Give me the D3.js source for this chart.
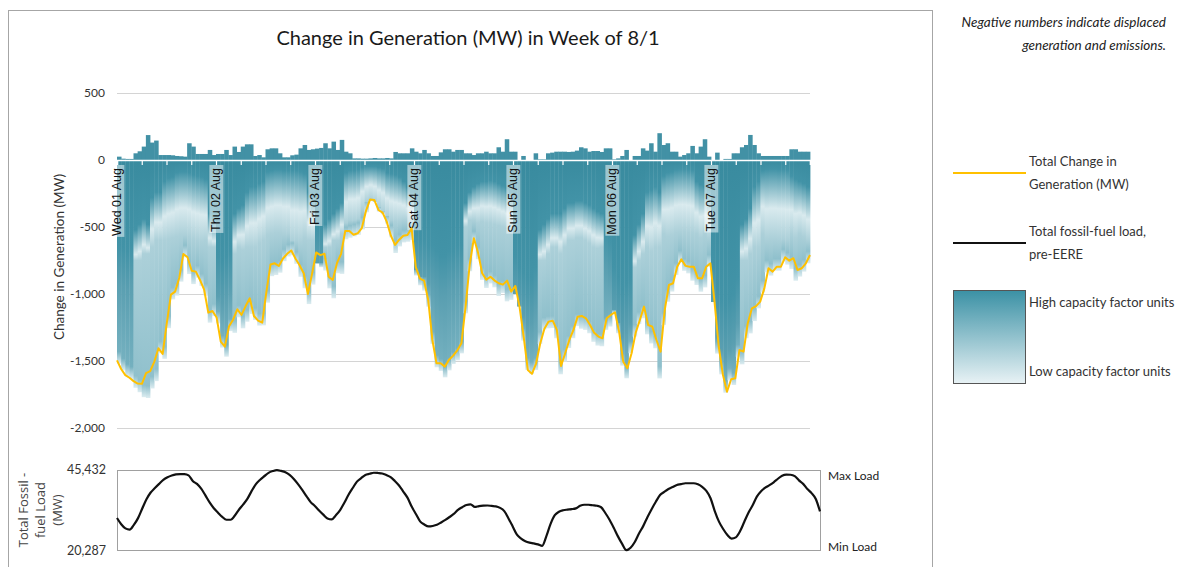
<!DOCTYPE html>
<html>
<head>
<meta charset="utf-8">
<script src="https://cdn.jsdelivr.net/npm/d3@7"></script>
<style>
body { margin: 0; background: #fff; }
svg { font-family: Lato, "Open Sans", sans-serif; }
</style>
</head>
<body>
<svg id="chart" width="1193" height="567"></svg>
<script>
// hourly data, week of 8/1
const hours = d3.range(168);
const dayLabels = ['Wed 01 Aug', 'Thu 02 Aug', 'Fri 03 Aug', 'Sat 04 Aug', 'Sun 05 Aug', 'Mon 06 Aug', 'Tue 07 Aug'];
const yTicks = [500, 0, -500, -1000, -1500, -2000];

// total change in generation (MW) - yellow line
const totalChange = [
  -1495,-1560,-1605,-1625,-1650,-1668,-1670,-1590,-1575,-1505,-1405,-1447,-1218,-1005,-982,-880,-701,-726,-826,-833,-895,-968,-1139,-1127,
  -1175,-1355,-1393,-1240,-1190,-1114,-1156,-1090,-1032,-1164,-1199,-1214,-985,-780,-771,-791,-735,-700,-675,-735,-785,-845,-1000,-850,
  -690,-710,-700,-871,-895,-770,-700,-530,-530,-558,-547,-508,-380,-294,-298,-373,-393,-460,-565,-634,-595,-565,-560,-510,
  -800,-885,-900,-1045,-1343,-1517,-1517,-1542,-1490,-1460,-1420,-1368,-1094,-780,-584,-690,-845,-893,-871,-900,-920,-930,-900,-982,
  -940,-1094,-1318,-1567,-1596,-1517,-1368,-1260,-1206,-1199,-1268,-1537,-1442,-1343,-1268,-1169,-1164,-1181,-1231,-1290,-1318,-1330,-1181,-1156,
  -1136,-1281,-1505,-1554,-1442,-1288,-1194,-1094,-1231,-1244,-1343,-1430,-1119,-933,-920,-796,-741,-790,-796,-796,-883,-883,-796,-771,
  -1060,-1390,-1600,-1729,-1636,-1629,-1418,-1430,-1218,-1107,-1090,-1057,-958,-808,-833,-796,-796,-726,-751,-733,-821,-808,-771,-709
];

// units with increased generation (MW)
const increase = [
  25,10,8,8,50,65,100,186,130,145,37,37,37,35,30,28,25,125,100,45,45,45,75,37,
  45,45,75,37,100,60,100,117,117,30,37,20,80,87,87,50,20,20,35,40,87,112,75,80,
  85,90,125,87,137,75,150,62,50,12,12,10,10,12,15,12,12,15,12,60,50,50,50,87,
  62,50,75,50,30,30,57,80,80,62,75,75,50,50,37,50,50,62,50,50,95,62,155,62,
  62,0,30,0,0,50,5,5,50,55,62,62,62,60,62,70,95,87,62,67,67,60,87,87,
  5,12,30,75,0,30,30,87,70,125,62,200,112,125,62,62,25,37,50,105,50,100,155,25,
  0,55,0,8,8,50,50,95,112,187,112,50,30,30,30,30,30,30,30,80,80,62,62,62
];

// displaced MW on high capacity factor units (top of the negative stack)
const highCF = [
  800,820,850,800,650,600,550,600,350,300,300,200,170,160,120,110,110,120,140,150,160,180,500,550,
  900,950,900,850,500,450,420,300,250,250,220,200,110,100,90,90,100,100,100,100,110,130,300,350,
  650,650,600,550,500,450,400,120,100,100,90,70,60,60,60,70,80,120,130,140,160,200,250,300,
  700,750,750,800,800,850,900,900,850,850,800,800,400,300,250,220,200,200,190,200,220,240,260,300,
  900,1000,1050,1100,1100,1000,650,600,550,500,500,500,450,400,400,380,380,400,420,450,480,500,700,750,
  1000,1100,1200,1150,1100,700,600,500,300,280,250,300,150,120,110,90,85,85,90,95,200,230,250,280,
  1000,1200,1300,1350,1300,1250,1100,600,550,450,250,200,100,90,85,85,90,90,95,150,180,200,220,250
];

// displaced MW on low capacity factor units (just under the high CF block)
const lowCF = [
  0,0,0,0,100,150,150,100,300,300,300,400,420,420,450,450,450,450,450,450,450,420,150,100,
  0,0,0,0,200,200,250,350,400,400,400,400,450,450,450,450,450,450,500,500,500,450,300,250,
  0,0,50,100,100,150,150,350,350,350,350,300,250,230,250,280,300,300,320,320,300,250,200,150,
  0,0,0,0,0,0,0,0,0,0,0,0,100,150,200,250,260,270,280,280,270,260,250,200,
  0,0,0,0,0,0,100,150,150,150,150,200,200,200,200,200,200,200,200,200,180,150,0,0,
  0,0,0,0,0,100,150,200,350,400,400,350,400,450,450,450,450,450,450,450,350,350,300,300,
  0,0,0,0,0,0,0,150,200,250,400,450,450,500,500,500,500,500,500,400,400,350,350,350
];

// total fossil-fuel load, pre-EERE (MW)
const fossilLoad = [
  30440,28500,27200,26810,28300,30400,33400,36300,38400,39800,41100,42330,43150,43700,44050,44160,44120,43750,42000,41080,39600,37500,35300,33500,
  32100,30800,29900,29900,31200,33100,34700,36500,38900,41000,42400,43500,44550,45100,45400,45150,44750,43900,42650,41000,39200,37300,35400,34200,
  32800,31500,30300,30000,31300,32900,35200,37700,39800,41800,42900,43900,44250,44580,44500,44350,43850,43200,42000,40600,38700,36800,34000,31700,
  29390,28400,27800,27950,28300,29050,29850,30750,31700,32950,33800,34500,34680,33900,34170,34300,34340,34200,34080,33600,32600,30300,27800,25250,
  24000,23200,22750,22500,22200,21750,24800,28600,31300,32400,32850,33050,33200,33450,34230,34570,34570,34420,34260,33800,32000,29900,27400,24700,
  22350,20400,21150,22950,25600,27900,30700,33200,35500,37600,38600,39500,40100,40760,41000,41300,41300,41300,40950,40180,38900,36600,32600,29300,
  27000,25100,24000,24400,26300,29200,32100,34400,37100,38800,39900,40700,41600,42700,43650,44000,43950,43500,42200,41100,39500,38200,36400,32490
];
const loadMin = 20287, loadMax = 45432;

const rows = hours.map(h => ({
  hour: h,
  increase: increase[h],
  decrease: totalChange[h] - increase[h],
  total: totalChange[h],
  high: highCF[h],
  low: lowCF[h]
}));

const svg = d3.select('#chart');
const fmt = d3.formatLocale({decimal: '.', thousands: ',', grouping: [3], currency: ['$', ''], minus: '-'}).format(',');

const colTop = '#398b9f', colDark = '#4293a7', colPale = '#d9eaee', colLight = '#acd0d9',
      colMid = '#5a9fb1', colBase = '#74b0bf', colLow = '#8fc0cc', colEdge = '#dcecf0';
const gold = '#ffc000';

// outer frame
svg.append('rect')
  .attr('x', 8.5).attr('y', 10.5)
  .attr('width', 924).attr('height', 600)
  .attr('fill', 'none').attr('stroke', '#a6a6a6');

svg.append('text')
  .attr('x', 468).attr('y', 45)
  .attr('text-anchor', 'middle')
  .attr('font-size', 20).attr('fill', '#1a1a1a')
  .text('Change in Generation (MW) in Week of 8/1');

const x = d3.scaleBand().domain(hours).range([117, 810]).padding(0);
const xp = d3.scalePoint().domain(hours).range([117, 810]);
const xt = d3.scaleLinear().domain([0, 168]).range([117, 810]);
const y = d3.scaleLinear().domain([-2000, 500]).range([428, 93]);

// gridlines + y labels
const yAxis = svg.append('g')
  .attr('transform', 'translate(117,0)')
  .call(d3.axisLeft(y).tickValues(yTicks).tickSize(-693).tickPadding(12).tickFormat(fmt));
yAxis.select('.domain').remove();
yAxis.selectAll('line').attr('stroke', '#d4d4d4');
yAxis.selectAll('text').attr('font-size', 12).attr('fill', '#333').attr('font-family', 'Lato, sans-serif');

svg.append('text')
  .attr('transform', 'translate(64,257) rotate(-90)')
  .attr('text-anchor', 'middle')
  .attr('font-size', 13.5).attr('fill', '#333')
  .text('Change in Generation (MW)');

// stacked bars (diverging: increase above zero, decrease below)
const stack = d3.stack().keys(['increase', 'decrease']).offset(d3.stackOffsetDiverging)(rows);

// each displaced column gets its own vertical gradient: high CF block on top, low CF under it
const defs = svg.append('defs');
rows.forEach(d => {
  const N = -d.decrease;
  const h = Math.min(d.high, N);
  const stops = [[0, colTop], [h * 0.8 / N, colDark]];
  if (d.low > 0) {
    stops.push([(h + d.low * 0.55) / N, colPale]);
    stops.push([(h + d.low) / N, colLight]);
    stops.push([(N - 90) / N, colLow]);
  } else {
    stops.push([(h + 120) / N, colMid]);
    stops.push([(N - 90) / N, colBase]);
  }
  stops.push([1, colEdge]);
  let last = 0;
  const g = defs.append('linearGradient')
    .attr('id', 'g' + d.hour)
    .attr('gradientUnits', 'userSpaceOnUse')
    .attr('x1', 0).attr('x2', 0)
    .attr('y1', y(0)).attr('y2', y(-N));
  stops.forEach(s => {
    last = Math.max(last, Math.min(1, s[0]));
    g.append('stop').attr('offset', last).attr('stop-color', s[1]);
  });
});

const barTop = d => Math.min(y(d[0]), y(d[1]));
const barHeight = d => Math.abs(y(d[0]) - y(d[1]));

const bars = svg.append('g');
bars.selectAll('rect.up')
  .data(stack[0])
  .join('rect')
  .attr('class', 'up')
  .attr('x', d => x(d.data.hour))
  .attr('width', x.bandwidth() + 0.4)
  .attr('y', barTop)
  .attr('height', barHeight)
  .attr('fill', '#4291a5');

bars.selectAll('rect.down')
  .data(stack[1])
  .join('rect')
  .attr('class', 'down')
  .attr('x', d => x(d.data.hour))
  .attr('width', x.bandwidth() + 0.4)
  .attr('y', barTop)
  .attr('height', barHeight)
  .attr('fill', d => 'url(#g' + d.data.hour + ')');

// zero line with 6-hour ticks
const zero = svg.append('g')
  .attr('transform', `translate(0,${y(0)})`)
  .call(d3.axisBottom(xt).tickValues(d3.range(0, 169, 6)).tickSize(5).tickFormat(''));
zero.select('.domain').attr('stroke', '#fff').attr('stroke-width', 1.5);
zero.selectAll('line').attr('stroke', '#fff').attr('stroke-width', 1.2);

// day labels
const days = svg.append('g');
dayLabels.forEach((lab, i) => {
  const g = days.append('g').attr('transform', `translate(${xt(i * 24)},168) rotate(-90)`);
  const t = g.append('text')
    .attr('text-anchor', 'end')
    .attr('dy', '0.35em')
    .attr('font-family', '"Liberation Sans", Arial, sans-serif')
    .attr('font-size', 12.5).attr('fill', '#111')
    .text(lab);
  const bb = t.node().getBBox();
  g.insert('rect', 'text')
    .attr('x', bb.x - 1).attr('y', bb.y)
    .attr('width', bb.width + 4).attr('height', bb.height)
    .attr('fill', '#fff').attr('fill-opacity', 0.5);
});

// total change line
svg.append('path')
  .datum(rows)
  .attr('fill', 'none')
  .attr('stroke', gold)
  .attr('stroke-width', 2)
  .attr('stroke-linejoin', 'round')
  .attr('d', d3.line().x(d => xp(d.hour)).y(d => y(d.total)));

// bottom panel: fossil load
const xl = d3.scalePoint().domain(hours).range([117, 820]);
const yl = d3.scaleLinear().domain([loadMin, loadMax]).range([550.5, 470]);

svg.append('rect')
  .attr('x', 117.5).attr('y', 470.5)
  .attr('width', 703).attr('height', 80)
  .attr('fill', 'none').attr('stroke', '#a0a0a0');

svg.append('path')
  .datum(fossilLoad)
  .attr('fill', 'none')
  .attr('stroke', '#111')
  .attr('stroke-width', 2.2)
  .attr('d', d3.line().x((d, i) => xl(i)).y(d => yl(d)).curve(d3.curveMonotoneX));

[loadMax, loadMin].forEach(v => {
  svg.append('text')
    .attr('x', 106).attr('y', yl(v)).attr('dy', '0.35em')
    .attr('text-anchor', 'end')
    .attr('font-size', 12.5).attr('fill', '#333')
    .text(fmt(v));
});
svg.append('text').attr('x', 828).attr('y', 476).attr('dy', '0.35em')
  .attr('font-size', 12).attr('fill', '#222').text('Max Load');
svg.append('text').attr('x', 828).attr('y', 547).attr('dy', '0.35em')
  .attr('font-size', 12).attr('fill', '#222').text('Min Load');

const lt = svg.append('text')
  .attr('transform', 'translate(0,510) rotate(-90)')
  .attr('text-anchor', 'middle')
  .attr('font-family', '"Open Sans", sans-serif')
  .attr('font-size', 13).attr('fill', '#444');
['Total Fossil -', 'fuel Load', '(MW)'].forEach((s, i) => {
  lt.append('tspan').attr('x', 0).attr('y', 28 + i * 17).text(s);
});

// note
const note = svg.append('g').attr('font-style', 'italic').attr('font-size', 13.5).attr('fill', '#222');
note.append('text').attr('x', 1166).attr('y', 27).attr('text-anchor', 'end').text('Negative numbers indicate displaced');
note.append('text').attr('x', 1166).attr('y', 50).attr('text-anchor', 'end').text('generation and emissions.');

// legend
const lg = svg.append('g').attr('font-size', 13).attr('fill', '#333');
lg.append('line').attr('x1', 953).attr('x2', 1026).attr('y1', 173).attr('y2', 173)
  .attr('stroke', gold).attr('stroke-width', 2);
lg.append('text').attr('x', 1029).attr('y', 166).text('Total Change in');
lg.append('text').attr('x', 1029).attr('y', 189).text('Generation (MW)');
lg.append('line').attr('x1', 953).attr('x2', 1026).attr('y1', 243).attr('y2', 243)
  .attr('stroke', '#111').attr('stroke-width', 2);
lg.append('text').attr('x', 1029).attr('y', 236).text('Total fossil-fuel load,');
lg.append('text').attr('x', 1029).attr('y', 259).text('pre-EERE');

const lgrad = defs.append('linearGradient').attr('id', 'lgrad')
  .attr('x1', 0).attr('x2', 0).attr('y1', 0).attr('y2', 1);
lgrad.append('stop').attr('offset', 0).attr('stop-color', '#3b91a5');
lgrad.append('stop').attr('offset', 1).attr('stop-color', '#e8f2f5');
lg.append('rect').attr('x', 953.5).attr('y', 290.5).attr('width', 72).attr('height', 93)
  .attr('fill', 'url(#lgrad)').attr('stroke', '#555');
lg.append('text').attr('x', 1029).attr('y', 307).text('High capacity factor units');
lg.append('text').attr('x', 1029).attr('y', 376).text('Low capacity factor units');
</script>
</body>
</html>
